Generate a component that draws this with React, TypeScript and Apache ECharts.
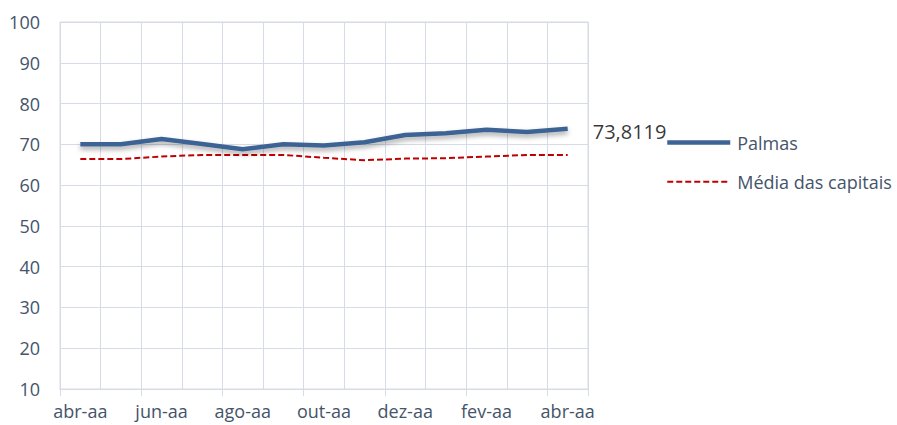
import React, { useEffect, useRef } from "react";
import * as echarts from "echarts";

const categories = ["abr-aa", "mai-aa", "jun-aa", "jul-aa", "ago-aa", "set-aa", "out-aa", "nov-aa", "dez-aa", "jan-aa", "fev-aa", "mar-aa", "abr-aa"];
const palmas = [70.0, 70.0, 71.3, 70.1, 68.8, 70.0, 69.7, 70.5, 72.3, 72.7, 73.6, 73.0, 73.8119];
const mediaCapitais = [66.4, 66.4, 67.0, 67.4, 67.4, 67.4, 66.7, 66.1, 66.5, 66.6, 67.0, 67.4, 67.4];
const seriesNames = ["Palmas", "Média das capitais"];

const FONT = "'Open Sans', sans-serif";
const GRID_COLOR = "#d6dbe5";
const TEXT_COLOR = "#44546a";
const BLUE = "#3d6494";
const RED = "#c00000";

export default function App() {
  const ref = useRef<HTMLDivElement>(null);
  useEffect(() => {
    document.body.style.margin = "0";
    if (!ref.current) return;
    const chart = echarts.init(ref.current, undefined, { renderer: "svg" });
    const lastIdx = palmas.length - 1;
    chart.setOption({
      animation: false,
      textStyle: { fontFamily: FONT },
      grid: {
        left: 60,
        right: 309,
        top: 22,
        bottom: 36,
        show: true,
        borderColor: GRID_COLOR,
        borderWidth: 1,
      },
      legend: {
        orient: "vertical",
        left: 665,
        top: 133,
        padding: 0,
        itemWidth: 63,
        itemHeight: 24,
        itemGap: 20,
        itemStyle: { opacity: 0 },
        data: [
          { name: seriesNames[0], lineStyle: { width: 4.5, color: BLUE } },
          { name: seriesNames[1], lineStyle: { width: 2, color: RED, type: [6, 3] } },
        ],
        textStyle: { fontFamily: FONT, fontSize: 18, color: TEXT_COLOR, padding: [0, 0, 0, 2] },
      },
      xAxis: {
        type: "category",
        data: categories,
        boundaryGap: true,
        axisLine: { lineStyle: { color: GRID_COLOR, width: 1 } },
        axisTick: { show: true, interval: 1, length: 7, lineStyle: { color: GRID_COLOR } },
        axisLabel: { interval: 1, color: TEXT_COLOR, fontFamily: FONT, fontSize: 18, margin: 13 },
        splitLine: { show: true, interval: 0, lineStyle: { color: GRID_COLOR, width: 1 } },
      },
      yAxis: {
        type: "value",
        min: 10,
        max: 100,
        interval: 10,
        axisLine: { show: false },
        axisTick: { show: false },
        axisLabel: { color: TEXT_COLOR, fontFamily: FONT, fontSize: 18, margin: 20 },
        splitLine: { lineStyle: { color: GRID_COLOR, width: 1 } },
      },
      series: [
        {
          name: seriesNames[0],
          type: "line",
          data: palmas,
          symbol: "none",
          z: 3,
          lineStyle: {
            color: BLUE,
            width: 4.5,
            shadowColor: "rgba(0,0,0,0.35)",
            shadowBlur: 5,
            shadowOffsetY: 3,
          },
          itemStyle: { color: BLUE },
        },
        {
          name: seriesNames[1],
          type: "line",
          data: mediaCapitais,
          symbol: "none",
          z: 2,
          lineStyle: { color: RED, width: 2, type: [6, 3] },
          itemStyle: { color: RED },
        },
        {
          name: "rotulo",
          type: "scatter",
          data: palmas.map((v, i) => (i === lastIdx ? [i, v] : null)).filter((d) => d !== null),
          symbolSize: 0,
          z: 4,
          label: {
            show: true,
            position: "right",
            distance: 25,
            offset: [0, 3],
            color: "#000000",
            fontFamily: FONT,
            fontSize: 20,
            formatter: (p: any) => String(p.value[1]).replace(".", ","),
          },
        },
      ],
    });
    return () => chart.dispose();
  }, []);
  return <div ref={ref} style={{ width: 897, height: 425 }} />;
}
